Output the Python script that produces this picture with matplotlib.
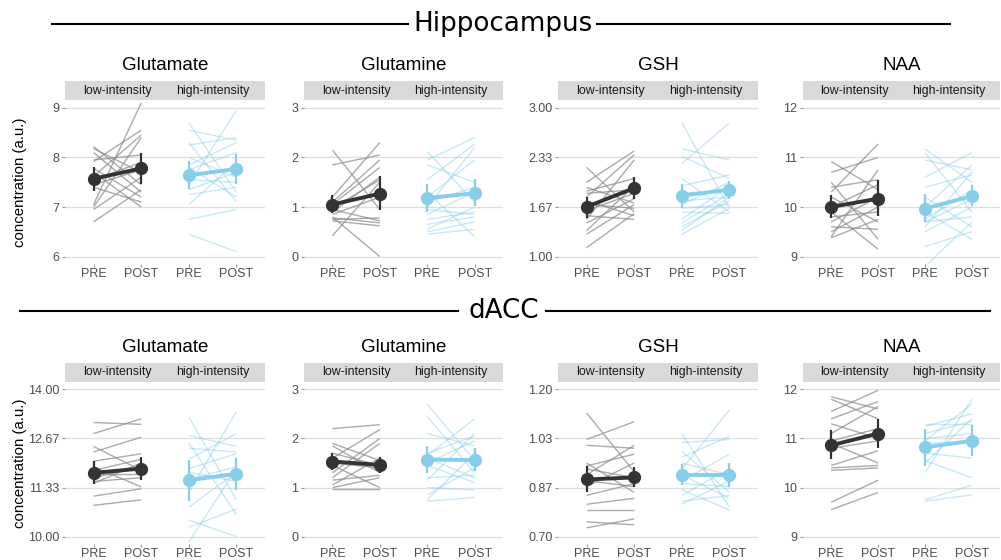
import matplotlib
matplotlib.use("Agg")
import matplotlib.pyplot as plt
from matplotlib.lines import Line2D

plt.rcParams['font.family'] = ['Liberation Sans', 'DejaVu Sans']

times = ['PRE', 'POST']
groups = ['low-intensity', 'high-intensity']

# ---- Hippocampus ----
hc_glu_low_pre = [8.22, 8.18, 8.10, 7.95, 7.92, 7.78, 7.70, 7.62, 7.55, 7.45, 7.40, 7.05, 7.00, 6.95, 6.70]
hc_glu_low_post = [7.45, 7.70, 7.30, 8.05, 8.55, 7.20, 7.00, 8.45, 7.90, 7.75, 7.10, 9.10, 8.40, 7.60, 7.35]
hc_glu_high_pre = [8.70, 8.55, 8.30, 8.25, 8.00, 7.85, 7.80, 7.75, 7.65, 7.55, 7.45, 7.35, 7.25, 7.05, 6.75, 6.45]
hc_glu_high_post = [7.30, 8.35, 7.10, 8.40, 7.60, 8.30, 7.20, 8.10, 7.75, 7.50, 8.95, 7.70, 7.40, 7.90, 6.95, 6.10]
hc_glu_mean = [[7.57, 7.78], [7.64, 7.77]]
hc_glu_lo = [[7.33, 7.46], [7.36, 7.46]]
hc_glu_hi = [[7.80, 8.10], [7.92, 8.08]]

hc_gln_low_pre = [2.15, 1.85, 1.20, 1.10, 1.05, 0.98, 0.95, 0.90, 0.85, 0.80, 0.78, 0.75, 0.72, 0.42]
hc_gln_low_post = [0.95, 2.05, 2.30, 1.95, 1.80, 1.55, 0.72, 1.60, 1.20, 0.00, 0.68, 0.78, 0.62, 1.50]
hc_gln_high_pre = [2.12, 1.95, 1.85, 1.55, 1.30, 1.20, 1.10, 1.00, 0.95, 0.85, 0.75, 0.65, 0.55, 0.50, 0.45]
hc_gln_high_post = [1.10, 2.40, 1.50, 2.27, 0.40, 1.95, 1.40, 2.20, 0.85, 1.30, 0.90, 0.80, 1.00, 0.70, 0.55]
hc_gln_mean = [[1.05, 1.27], [1.18, 1.28]]
hc_gln_lo = [[0.87, 0.93], [0.90, 1.02]]
hc_gln_hi = [[1.25, 1.62], [1.47, 1.57]]

hc_gsh_low_pre = [2.20, 2.00, 1.93, 1.88, 1.85, 1.80, 1.75, 1.70, 1.62, 1.55, 1.50, 1.45, 1.35, 1.30, 1.12]
hc_gsh_low_post = [1.60, 2.42, 1.72, 2.05, 1.90, 2.37, 1.55, 1.65, 1.85, 1.50, 2.30, 1.78, 1.95, 1.70, 1.58]
hc_gsh_high_pre = [2.80, 2.45, 2.35, 2.25, 2.05, 1.95, 1.85, 1.75, 1.70, 1.65, 1.60, 1.50, 1.45, 1.40, 1.35, 1.30]
hc_gsh_high_post = [1.65, 2.30, 2.05, 2.80, 1.60, 2.10, 1.90, 1.80, 2.00, 1.70, 1.58, 1.95, 1.85, 1.75, 1.80, 1.65]
hc_gsh_mean = [[1.67, 1.92], [1.82, 1.90]]
hc_gsh_lo = [[1.52, 1.78], [1.65, 1.78]]
hc_gsh_hi = [[1.80, 2.07], [1.98, 2.02]]

hc_naa_low_pre = [10.92, 10.70, 10.50, 10.40, 10.30, 10.20, 10.00, 9.90, 9.80, 9.70, 9.60, 9.50, 9.40, 9.38]
hc_naa_low_post = [10.35, 11.00, 9.35, 10.55, 11.27, 9.70, 10.45, 9.15, 9.90, 10.20, 9.55, 10.00, 10.75, 9.75]
hc_naa_high_pre = [11.17, 11.10, 10.95, 10.60, 10.40, 10.20, 10.00, 9.90, 9.75, 9.70, 9.70, 9.60, 9.50, 9.20, 8.80]
hc_naa_high_post = [10.50, 9.90, 10.75, 11.10, 10.65, 9.60, 10.85, 9.35, 10.35, 9.80, 10.15, 10.70, 10.00, 9.50, 9.70]
hc_naa_mean = [[10.00, 10.17], [9.97, 10.22]]
hc_naa_lo = [[9.77, 9.82], [9.70, 10.02]]
hc_naa_hi = [[10.25, 10.55], [10.27, 10.45]]

# ---- dACC ----
da_glu_low_pre = [13.10, 12.80, 12.45, 12.30, 12.05, 11.90, 11.80, 11.70, 11.60, 11.50, 11.45, 11.10, 10.85]
da_glu_low_post = [13.05, 13.20, 11.80, 12.70, 12.25, 11.35, 12.10, 11.70, 11.90, 11.60, 12.00, 11.30, 11.00]
da_glu_high_pre = [13.25, 12.75, 12.55, 12.40, 12.10, 11.85, 11.75, 11.55, 11.20, 10.80, 10.45, 10.25, 9.85]
da_glu_high_post = [11.00, 12.45, 10.60, 12.30, 12.80, 12.25, 11.50, 11.90, 13.40, 11.75, 10.00, 10.75, 11.85]
da_glu_mean = [[11.73, 11.85], [11.53, 11.71]]
da_glu_lo = [[11.42, 11.55], [10.98, 11.28]]
da_glu_hi = [[12.05, 12.15], [12.08, 12.13]]

da_gln_low_pre = [2.20, 1.90, 1.85, 1.70, 1.60, 1.50, 1.45, 1.30, 1.20, 1.15, 1.05, 1.00, 0.98]
da_gln_low_post = [2.28, 1.55, 1.30, 1.45, 2.18, 1.40, 1.00, 2.00, 1.90, 1.25, 1.60, 1.20, 0.98]
da_gln_high_pre = [2.70, 2.45, 2.10, 1.70, 1.65, 1.60, 1.50, 1.45, 1.20, 1.15, 1.00, 0.85, 0.75, 0.72]
da_gln_high_post = [1.55, 1.30, 1.85, 2.05, 2.40, 1.20, 1.95, 1.10, 1.25, 2.10, 0.95, 1.40, 1.70, 0.80]
da_gln_mean = [[1.53, 1.46], [1.57, 1.56]]
da_gln_lo = [[1.35, 1.30], [1.30, 1.33]]
da_gln_hi = [[1.70, 1.62], [1.85, 1.80]]

da_gsh_low_pre = [1.12, 1.03, 1.01, 0.95, 0.94, 0.93, 0.91, 0.89, 0.87, 0.84, 0.81, 0.79, 0.75, 0.73]
da_gsh_low_post = [0.92, 1.09, 1.00, 0.85, 0.98, 0.90, 1.01, 0.87, 0.95, 0.88, 0.83, 0.79, 0.74, 0.76]
da_gsh_high_pre = [1.05, 1.02, 0.99, 0.97, 0.95, 0.93, 0.91, 0.89, 0.88, 0.86, 0.84, 0.82, 0.81]
da_gsh_high_post = [0.80, 1.03, 0.85, 1.04, 0.91, 1.13, 0.83, 0.98, 0.87, 0.79, 0.93, 0.84, 0.89]
da_gsh_mean = [[0.894, 0.901], [0.910, 0.910]]
da_gsh_lo = [[0.850, 0.870], [0.875, 0.870]]
da_gsh_hi = [[0.940, 0.935], [0.945, 0.950]]

da_naa_low_pre = [11.85, 11.80, 11.55, 11.40, 11.30, 11.10, 10.95, 10.90, 10.80, 10.45, 10.40, 10.35, 9.70, 9.55]
da_naa_low_post = [11.60, 11.40, 11.98, 11.75, 11.00, 11.65, 11.20, 10.50, 10.95, 10.75, 10.45, 10.40, 10.15, 9.90]
da_naa_high_pre = [11.30, 11.25, 11.10, 11.00, 10.95, 10.90, 10.70, 10.55, 10.50, 10.30, 9.75, 9.72]
da_naa_high_post = [11.30, 11.50, 11.35, 11.10, 11.70, 10.95, 10.60, 10.20, 11.40, 11.80, 10.05, 9.85]
da_naa_mean = [[10.86, 11.10], [10.82, 10.95]]
da_naa_lo = [[10.58, 10.80], [10.43, 10.65]]
da_naa_hi = [[11.17, 11.40], [11.20, 11.27]]

ticks_glu_hc = [6, 7, 8, 9]
ticks_gln = [0, 1, 2, 3]
ticks_gsh_hc = [1.0, 5 / 3, 7 / 3, 3.0]
labels_gsh_hc = ['1.00', '1.67', '2.33', '3.00']
ticks_naa = [9, 10, 11, 12]
ticks_glu_da = [10.0, 34 / 3, 38 / 3, 14.0]
labels_glu_da = ['10.00', '11.33', '12.67', '14.00']
ticks_gsh_da = [0.70, 0.70 + 0.5 / 3, 0.70 + 1.0 / 3, 1.20]
labels_gsh_da = ['0.70', '0.87', '1.03', '1.20']

panels = [
    ('Glutamate', hc_glu_low_pre, hc_glu_low_post, hc_glu_high_pre, hc_glu_high_post,
     hc_glu_mean, hc_glu_lo, hc_glu_hi, ticks_glu_hc, [str(t) for t in ticks_glu_hc]),
    ('Glutamine', hc_gln_low_pre, hc_gln_low_post, hc_gln_high_pre, hc_gln_high_post,
     hc_gln_mean, hc_gln_lo, hc_gln_hi, ticks_gln, [str(t) for t in ticks_gln]),
    ('GSH', hc_gsh_low_pre, hc_gsh_low_post, hc_gsh_high_pre, hc_gsh_high_post,
     hc_gsh_mean, hc_gsh_lo, hc_gsh_hi, ticks_gsh_hc, labels_gsh_hc),
    ('NAA', hc_naa_low_pre, hc_naa_low_post, hc_naa_high_pre, hc_naa_high_post,
     hc_naa_mean, hc_naa_lo, hc_naa_hi, ticks_naa, [str(t) for t in ticks_naa]),
    ('Glutamate', da_glu_low_pre, da_glu_low_post, da_glu_high_pre, da_glu_high_post,
     da_glu_mean, da_glu_lo, da_glu_hi, ticks_glu_da, labels_glu_da),
    ('Glutamine', da_gln_low_pre, da_gln_low_post, da_gln_high_pre, da_gln_high_post,
     da_gln_mean, da_gln_lo, da_gln_hi, ticks_gln, [str(t) for t in ticks_gln]),
    ('GSH', da_gsh_low_pre, da_gsh_low_post, da_gsh_high_pre, da_gsh_high_post,
     da_gsh_mean, da_gsh_lo, da_gsh_hi, ticks_gsh_da, labels_gsh_da),
    ('NAA', da_naa_low_pre, da_naa_low_post, da_naa_high_pre, da_naa_high_post,
     da_naa_mean, da_naa_lo, da_naa_hi, ticks_naa, [str(t) for t in ticks_naa]),
]

W, H = 1001, 560
fig = plt.figure(figsize=(W / 100, H / 100), dpi=100)
fig.patch.set_facecolor('white')


def px_axes(x0, y0, x1, y1):
    return fig.add_axes([x0 / W, 1 - y1 / H, (x1 - x0) / W, (y1 - y0) / H])


cols = [(65, 265), (304, 503), (558, 758), (803, 1000)]
rows = [(100.5, 264), (382, 544)]  # plot area top / bottom in pixels
strip_h = 19
ind_colors = ['#8f8f8f', '#87CEEB']
ind_alpha = [0.75, 0.45]
mean_colors = ['#333333', '#87CEEB']
tick_col = '#4D4D4D'

for i, (name, lpre, lpost, hpre, hpost, mean, lo, hi, ticks, tlabels) in enumerate(panels):
    r, c = divmod(i, 4)
    x0, x1 = cols[c]
    y0, y1 = rows[r]
    ax = px_axes(x0, y0, x1, y1)

    pos = [(1, 2), (3, 4)]
    for g, (pre, post) in enumerate([(lpre, lpost), (hpre, hpost)]):
        for a, b in zip(pre, post):
            ax.plot(pos[g], [a, b], color=ind_colors[g], alpha=ind_alpha[g], lw=1.0,
                    solid_capstyle='butt', zorder=2)
    for g in range(2):
        ax.vlines(pos[g], lo[g], hi[g], color=mean_colors[g], lw=1.6, zorder=3)
        ax.plot(pos[g], mean[g], color=mean_colors[g], lw=2.8, marker='o', ms=8.5,
                zorder=4)

    span = ticks[-1] - ticks[0]
    ax.set_ylim(ticks[0] - 0.05 * span, ticks[-1] + 0.05 * span)
    ax.set_xlim(0.4, 4.6)
    ax.set_yticks(ticks)
    ax.set_yticklabels(tlabels)
    ax.set_xticks([1, 2, 3, 4])
    ax.set_xticklabels(times * 2)
    ax.tick_params(axis='both', length=2.5, width=0.8, color='#999999',
                   labelcolor=tick_col, labelsize=9, pad=1.5)
    ax.tick_params(axis='x', pad=0.5)
    for s in ax.spines.values():
        s.set_visible(False)
    ax.yaxis.grid(True, color='#DEDEDE', lw=0.9)
    ax.set_axisbelow(True)

    # facet strip
    sax = px_axes(x0, y0 - strip_h - 0.5, x1, y0 - 0.5)
    sax.set_facecolor('#D9D9D9')
    sax.set_xlim(0.4, 4.6)
    sax.set_ylim(0, 1)
    sax.set_xticks([])
    sax.set_yticks([])
    for s in sax.spines.values():
        s.set_visible(False)
    for g in range(2):
        sax.text(1.5 + 2 * g, 0.48, groups[g], ha='center', va='center',
                 fontsize=8.9, color='#1A1A1A')
    sax.text(2.5, 1.0 + 15 / strip_h, name, ha='center', va='center',
             fontsize=13.5, color='black')

# shared y-axis titles, one per row
for y0, y1 in rows:
    fig.text(20 / W, 1 - (y0 + y1) / 2 / H, 'concentration (a.u.)', rotation=90,
             ha='center', va='center', fontsize=10.8, color='black')

# section headings with rules either side
head_font = ['DejaVu Sans']
fig.text(503 / W, 1 - 24 / H, 'Hippocampus', ha='center', va='center',
         fontsize=18.8, family=head_font)
fig.add_artist(Line2D([52 / W, 408 / W], [1 - 24 / H] * 2, color='black', lw=1.5))
fig.add_artist(Line2D([597 / W, 950 / W], [1 - 24 / H] * 2, color='black', lw=1.5))
fig.text(504 / W, 1 - 311 / H, 'dACC', ha='center', va='center',
         fontsize=18.8, family=head_font)
fig.add_artist(Line2D([20 / W, 458 / W], [1 - 311 / H] * 2, color='black', lw=1.5))
fig.add_artist(Line2D([546 / W, 990 / W], [1 - 311 / H] * 2, color='black', lw=1.5))

fig.savefig('out.png', dpi=100)
